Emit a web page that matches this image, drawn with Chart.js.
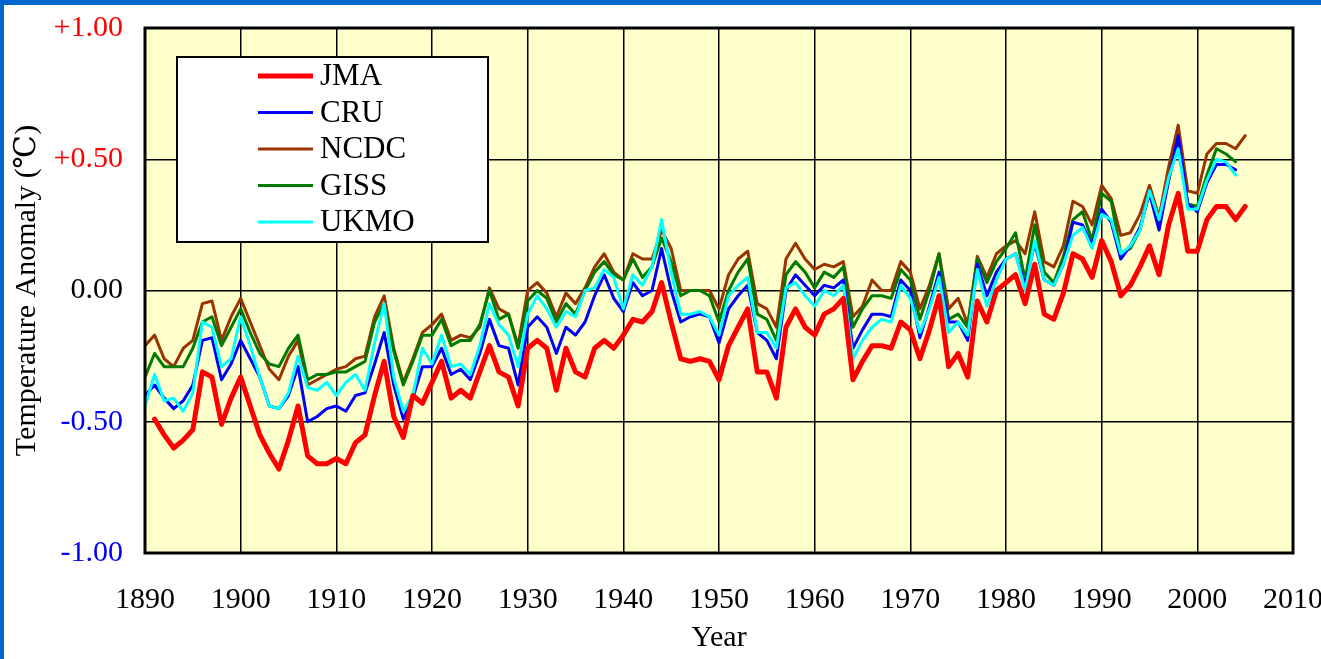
<!DOCTYPE html>
<html>
<head>
<meta charset="utf-8">
<script src="https://cdn.jsdelivr.net/npm/chart.js@4"></script>
<style>
  body { margin: 0; background: #fff; }
  #wrap { width: 1321px; height: 659px; }
</style>
</head>
<body>
<div id="wrap"><canvas id="tempChart" width="1321" height="659"></canvas></div>
<script>
// years 1890..2005
const years = Array.from({ length: 116 }, (_, i) => 1890 + i);

const jma = [null,
  -0.49, -0.55, -0.60, -0.57, -0.53, -0.31, -0.33, -0.51, -0.41, -0.33,
  -0.44, -0.55, -0.62, -0.68, -0.57, -0.44, -0.63, -0.66, -0.66, -0.64,
  -0.66, -0.58, -0.55, -0.40, -0.27, -0.48, -0.56, -0.40, -0.43, -0.35,
  -0.27, -0.41, -0.38, -0.41, -0.31, -0.21, -0.31, -0.33, -0.44, -0.22,
  -0.19, -0.22, -0.38, -0.22, -0.31, -0.33, -0.22, -0.19, -0.22, -0.17,
  -0.11, -0.12, -0.08, 0.03, -0.12, -0.26, -0.27, -0.26, -0.27, -0.34,
  -0.21, -0.14, -0.07, -0.31, -0.31, -0.41, -0.14, -0.07, -0.14, -0.17,
  -0.09, -0.07, -0.03, -0.34, -0.27, -0.21, -0.21, -0.22, -0.12, -0.15,
  -0.26, -0.15, -0.02, -0.29, -0.24, -0.33, -0.04, -0.12, 0.00, 0.03,
  0.06, -0.05, 0.10, -0.09, -0.11, -0.01, 0.14, 0.12, 0.05, 0.19,
  0.11, -0.02, 0.02, 0.09, 0.17, 0.06, 0.25, 0.37, 0.15, 0.15,
  0.27, 0.32, 0.32, 0.27, 0.32];

const cru = [-0.40,
  -0.36, -0.41, -0.45, -0.42, -0.36, -0.19, -0.18, -0.34, -0.28, -0.19,
  -0.26, -0.33, -0.44, -0.45, -0.40, -0.29, -0.50, -0.48, -0.45, -0.44,
  -0.46, -0.40, -0.39, -0.28, -0.16, -0.36, -0.49, -0.41, -0.29, -0.29,
  -0.22, -0.32, -0.30, -0.34, -0.24, -0.11, -0.21, -0.22, -0.36, -0.14,
  -0.10, -0.14, -0.24, -0.14, -0.17, -0.12, -0.02, 0.06, -0.03, -0.08,
  0.03, -0.02, 0.00, 0.16, 0.00, -0.12, -0.10, -0.09, -0.10, -0.20,
  -0.07, -0.02, 0.02, -0.16, -0.19, -0.26, 0.00, 0.06, 0.02, -0.02,
  0.02, 0.01, 0.04, -0.22, -0.15, -0.09, -0.09, -0.10, 0.04, 0.00,
  -0.18, -0.06, 0.07, -0.12, -0.12, -0.19, 0.10, -0.02, 0.07, 0.12,
  0.14, 0.02, 0.18, 0.04, 0.02, 0.10, 0.26, 0.25, 0.17, 0.31,
  0.26, 0.12, 0.17, 0.24, 0.37, 0.23, 0.42, 0.59, 0.33, 0.30,
  0.41, 0.48, 0.48, 0.46, null];

const ncdc = [-0.21,
  -0.17, -0.26, -0.29, -0.22, -0.19, -0.05, -0.04, -0.19, -0.10, -0.03,
  -0.12, -0.21, -0.30, -0.34, -0.25, -0.19, -0.36, -0.34, -0.32, -0.30,
  -0.29, -0.26, -0.25, -0.10, -0.02, -0.22, -0.35, -0.26, -0.16, -0.13,
  -0.09, -0.19, -0.17, -0.18, -0.14, 0.01, -0.07, -0.09, -0.21, 0.00,
  0.03, -0.01, -0.10, -0.01, -0.05, 0.01, 0.09, 0.14, 0.07, 0.04,
  0.14, 0.12, 0.12, 0.23, 0.16, 0.00, 0.00, 0.00, 0.00, -0.07,
  0.06, 0.12, 0.15, -0.05, -0.07, -0.14, 0.12, 0.18, 0.12, 0.08,
  0.10, 0.09, 0.11, -0.10, -0.06, 0.04, 0.00, 0.00, 0.11, 0.07,
  -0.07, 0.02, 0.14, -0.07, -0.03, -0.13, 0.13, 0.05, 0.14, 0.17,
  0.19, 0.14, 0.30, 0.11, 0.09, 0.17, 0.34, 0.32, 0.25, 0.40,
  0.35, 0.21, 0.22, 0.29, 0.40, 0.28, 0.47, 0.63, 0.38, 0.37,
  0.52, 0.56, 0.56, 0.54, 0.59];

const giss = [-0.33,
  -0.24, -0.29, -0.29, -0.29, -0.22, -0.12, -0.10, -0.21, -0.14, -0.07,
  -0.16, -0.24, -0.28, -0.29, -0.22, -0.17, -0.34, -0.32, -0.32, -0.31,
  -0.31, -0.29, -0.27, -0.12, -0.05, -0.23, -0.36, -0.27, -0.17, -0.17,
  -0.11, -0.21, -0.19, -0.19, -0.13, 0.00, -0.11, -0.09, -0.22, -0.04,
  0.00, -0.03, -0.12, -0.05, -0.09, 0.00, 0.07, 0.11, 0.06, 0.04,
  0.12, 0.05, 0.09, 0.20, 0.11, -0.02, 0.00, 0.00, -0.02, -0.12,
  0.00, 0.07, 0.12, -0.09, -0.11, -0.19, 0.06, 0.11, 0.07, 0.01,
  0.07, 0.05, 0.09, -0.14, -0.07, -0.02, -0.02, -0.03, 0.08, 0.04,
  -0.11, 0.00, 0.14, -0.11, -0.09, -0.14, 0.12, 0.03, 0.11, 0.16,
  0.22, 0.04, 0.25, 0.07, 0.03, 0.13, 0.27, 0.30, 0.19, 0.37,
  0.34, 0.14, 0.16, 0.23, 0.38, 0.26, 0.42, 0.57, 0.33, 0.32,
  0.44, 0.54, 0.52, 0.49, null];

const ukmo = [-0.44,
  -0.32, -0.42, -0.41, -0.46, -0.39, -0.12, -0.14, -0.29, -0.26, -0.10,
  -0.21, -0.33, -0.44, -0.45, -0.39, -0.25, -0.37, -0.38, -0.35, -0.40,
  -0.35, -0.32, -0.38, -0.20, -0.05, -0.33, -0.46, -0.40, -0.22, -0.28,
  -0.17, -0.29, -0.28, -0.32, -0.21, -0.05, -0.13, -0.17, -0.29, -0.09,
  -0.02, -0.07, -0.14, -0.08, -0.10, 0.00, 0.01, 0.08, 0.05, -0.07,
  0.06, 0.02, 0.09, 0.27, 0.07, -0.09, -0.09, -0.08, -0.10, -0.17,
  -0.02, 0.02, 0.05, -0.16, -0.16, -0.22, 0.01, 0.03, -0.02, -0.06,
  0.00, -0.02, 0.02, -0.26, -0.19, -0.14, -0.11, -0.12, 0.02, -0.03,
  -0.16, -0.07, 0.05, -0.16, -0.12, -0.17, 0.08, -0.06, 0.04, 0.12,
  0.14, 0.00, 0.19, 0.04, 0.02, 0.10, 0.21, 0.24, 0.16, 0.29,
  0.27, 0.14, 0.17, 0.23, 0.38, 0.27, 0.43, 0.54, 0.31, 0.31,
  0.42, 0.50, 0.49, 0.44, null];

const yTicks = [-1.0, -0.5, 0.0, 0.5, 1.0];

const serif = "'Liberation Serif', 'DejaVu Serif', serif";

function pts(vals) {
  return years.map((y, i) => ({ x: y, y: vals[i] }));
}

// white page, blue frame strips, pale yellow plot area
const framePlugin = {
  id: 'frame',
  beforeDraw(chart) {
    const { ctx, chartArea: a } = chart;
    ctx.save();
    ctx.fillStyle = '#ffffff';
    ctx.fillRect(0, 0, chart.width, chart.height);
    ctx.fillStyle = '#0066cc';
    ctx.fillRect(0, 0, chart.width, 5);
    ctx.fillRect(0, 0, 4, chart.height);
    ctx.fillStyle = '#ffffcc';
    ctx.fillRect(a.left, a.top, a.right - a.left, a.bottom - a.top);
    ctx.restore();
  },
  afterDraw(chart) {
    const { ctx, chartArea: a } = chart;
    ctx.save();
    ctx.strokeStyle = '#000';
    ctx.lineWidth = 3;
    ctx.strokeRect(a.left, a.top, a.right - a.left, a.bottom - a.top);

    // legend box
    const bx = 177, by = 57, bw = 311, bh = 185;
    ctx.fillStyle = '#fff';
    ctx.fillRect(bx, by, bw, bh);
    ctx.lineWidth = 2;
    ctx.strokeRect(bx, by, bw, bh);
    ctx.font = '31px ' + serif;
    ctx.textBaseline = 'middle';
    chart.data.datasets.forEach((ds, row) => {
      const y = 76 + row * 36.5;
      ctx.strokeStyle = ds.borderColor;
      ctx.lineWidth = row === 0 ? 5 : 3;
      ctx.beginPath();
      ctx.moveTo(258, y);
      ctx.lineTo(313, y);
      ctx.stroke();
      ctx.fillStyle = '#000';
      ctx.fillText(ds.label, 320, y + 1);
    });
    ctx.restore();
  }
};

const ctx = document.getElementById('tempChart').getContext('2d');
const tempChart = new Chart(ctx, {
  type: 'line',
  data: {
    datasets: [
      { label: 'JMA', data: pts(jma), borderColor: '#ff0000', borderWidth: 5, order: 1 },
      { label: 'CRU', data: pts(cru), borderColor: '#0000ff', borderWidth: 3, order: 3 },
      { label: 'NCDC', data: pts(ncdc), borderColor: '#993300', borderWidth: 3, order: 5 },
      { label: 'GISS', data: pts(giss), borderColor: '#007a00', borderWidth: 3, order: 4 },
      { label: 'UKMO', data: pts(ukmo), borderColor: '#00ffff', borderWidth: 3, order: 2 }
    ]
  },
  options: {
    responsive: false,
    animation: false,
    elements: {
      point: { radius: 0 },
      line: { tension: 0, borderJoinStyle: 'round', borderCapStyle: 'round' }
    },
    layout: { padding: { left: 0, right: 28, top: 28, bottom: 0 } },
    plugins: {
      legend: { display: false },
      tooltip: { enabled: false }
    },
    scales: {
      x: {
        type: 'linear',
        min: 1890,
        max: 2010,
        afterFit: (s) => { s.height = 106; s.paddingLeft = 0; s.paddingRight = 0; },
        ticks: {
          stepSize: 10,
          padding: 29,
          color: '#000',
          font: { family: serif, size: 30 },
          callback: (v) => String(v)
        },
        grid: { color: '#000', lineWidth: 1.5, drawTicks: false },
        border: { display: false },
        title: {
          display: true,
          text: 'Year',
          color: '#000',
          font: { family: serif, size: 30 },
          padding: { top: 0, bottom: 3 }
        }
      },
      y: {
        min: -1,
        max: 1,
        afterFit: (s) => { s.width = 145; s.paddingTop = 0; s.paddingBottom = 0; },
        afterBuildTicks: (s) => { s.ticks = yTicks.map(v => ({ value: v })); },
        ticks: {
          padding: 22,
          font: { family: serif, size: 30 },
          color: (c) => c.tick.value > 0 ? '#ff0000' : (c.tick.value < 0 ? '#0000ff' : '#000'),
          callback: (v) => v > 0 ? '+' + v.toFixed(2) : v.toFixed(2)
        },
        grid: { color: '#000', lineWidth: 1.5, drawTicks: false },
        border: { display: false },
        title: {
          display: true,
          text: 'Temperature Anomaly (℃)',
          color: '#000',
          font: { family: serif, size: 30 },
          padding: { top: 9, bottom: 0 }
        }
      }
    }
  },
  plugins: [framePlugin]
});
</script>
</body>
</html>
